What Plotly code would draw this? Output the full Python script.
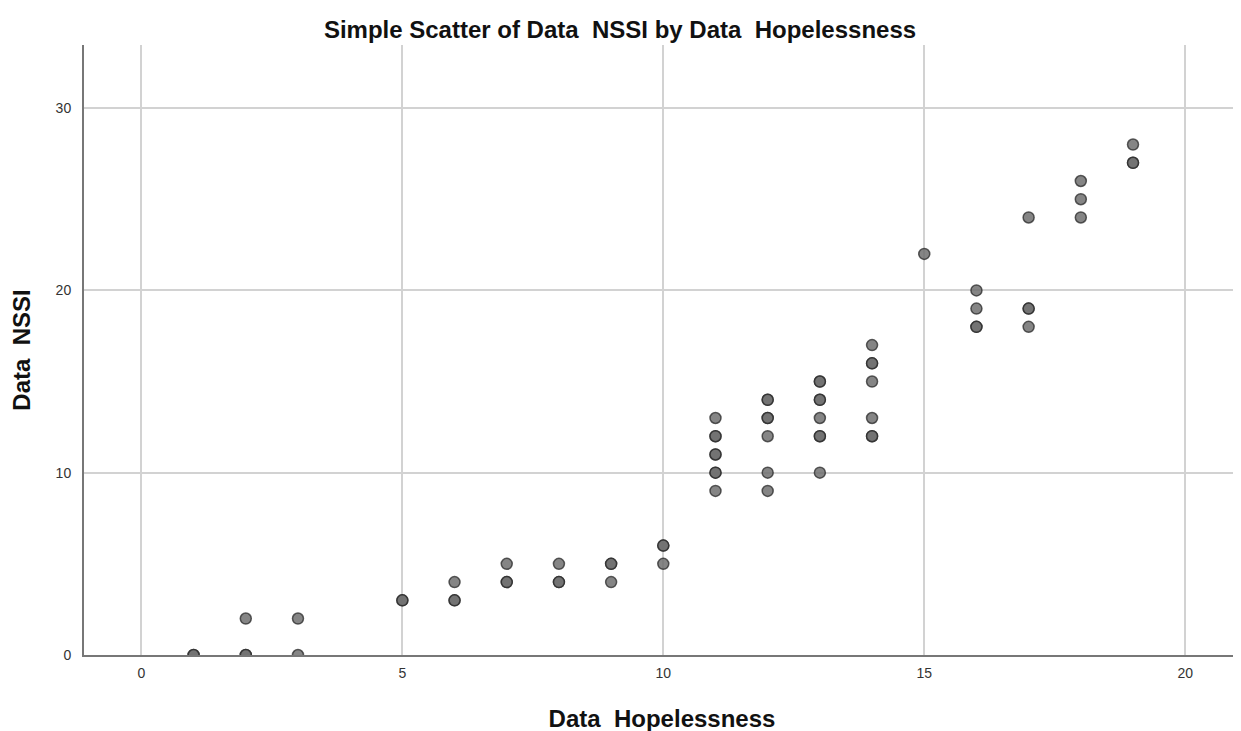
import plotly.graph_objects as go

# Data Hopelessness (x) and Data NSSI (y); repeated pairs are overlapping cases
hopelessness = [1, 1,
                2, 2, 2,
                3, 3,
                5, 5,
                6, 6, 6,
                7, 7, 7,
                8, 8, 8,
                9, 9, 9,
                10, 10, 10,
                11, 11, 11, 11, 11, 11, 11, 11,
                12, 12, 12, 12, 12, 12, 12,
                13, 13, 13, 13, 13, 13, 13, 13,
                14, 14, 14, 14, 14, 14, 14,
                15,
                16, 16, 16, 16,
                17, 17, 17, 17,
                18, 18, 18,
                19, 19, 19]
nssi = [0, 0,
        0, 0, 2,
        0, 2,
        3, 3,
        3, 3, 4,
        4, 4, 5,
        4, 4, 5,
        4, 5, 5,
        5, 6, 6,
        9, 10, 10, 11, 11, 12, 12, 13,
        9, 10, 12, 13, 13, 14, 14,
        10, 12, 12, 13, 14, 14, 15, 15,
        12, 12, 13, 15, 16, 16, 17,
        22,
        18, 18, 19, 20,
        18, 19, 19, 24,
        24, 25, 26,
        27, 27, 28]

x_ticks = [0, 5, 10, 15, 20]
y_ticks = [0, 10, 20, 30]

fig = go.Figure()
fig.add_trace(go.Scatter(
    x=hopelessness, y=nssi, mode="markers",
    marker=dict(size=11, color="rgba(112,112,112,0.85)",
                line=dict(color="rgba(40,40,40,0.75)", width=1.5)),
    showlegend=False,
))

fig.update_layout(
    width=1241, height=731,
    margin=dict(l=74, r=9, t=37, b=84),
    paper_bgcolor="white", plot_bgcolor="white",
    font=dict(family="Liberation Sans, Arial, sans-serif", color="#222"),
    title=dict(text="<b>Simple Scatter of Data\u00a0 NSSI by Data\u00a0 Hopelessness</b>",
               x=(620 - 8) / 1241, xanchor="center", y=0.970, yanchor="middle",
               font=dict(size=24, color="#111")),
    xaxis=dict(range=[-1.10, 21.05], tickvals=x_ticks, showgrid=True,
               gridcolor="#d2d2d2", gridwidth=1.5, zeroline=False,
               showline=True, linecolor="#777", linewidth=2,
               ticks="", ticklabelstandoff=4, tickfont=dict(size=14, color="#333"),
               title=dict(text="<b>Data\u00a0 Hopelessness</b>",
                          font=dict(size=24, color="#111"), standoff=30)),
    yaxis=dict(range=[0, 33.46], tickvals=y_ticks, showgrid=True,
               gridcolor="#d2d2d2", gridwidth=1.5, zeroline=False,
               showline=True, linecolor="#777", linewidth=2,
               ticks="", ticklabelstandoff=8, tickfont=dict(size=14, color="#333"),
               title=dict(text="<b>Data\u00a0 NSSI</b>",
                          font=dict(size=24, color="#111"), standoff=22)),
)

fig.write_html("out.html")
